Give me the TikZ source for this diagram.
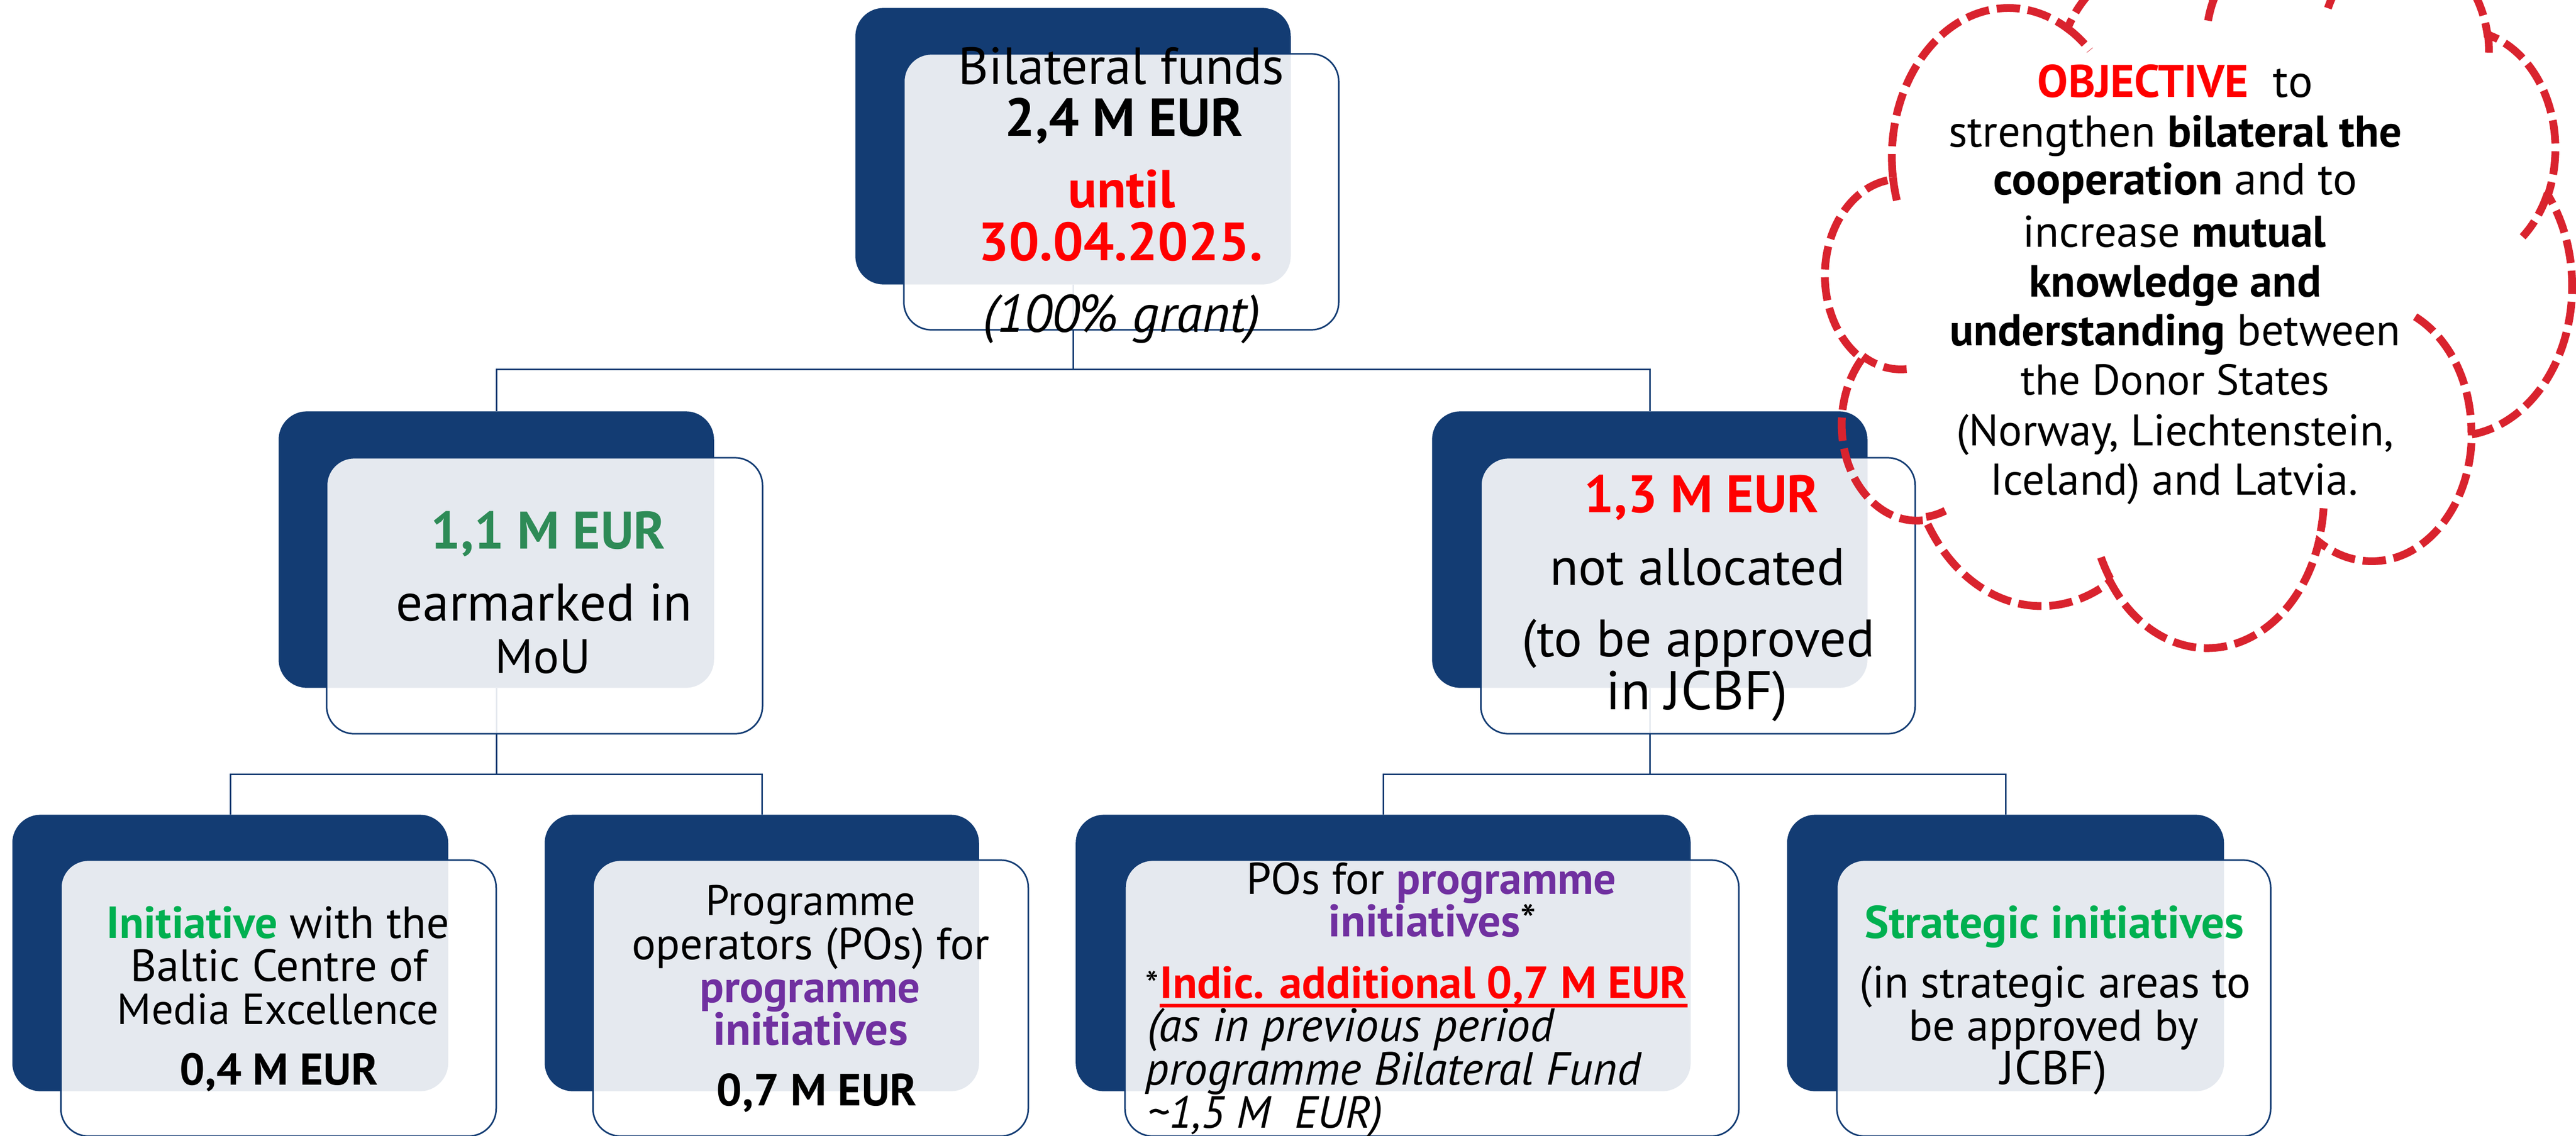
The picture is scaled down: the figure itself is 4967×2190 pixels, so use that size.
\documentclass[tikz,border=0pt]{standalone}
\usepackage{fontspec}
\setmainfont{PT Sans}
\usepackage{graphicx}
\usetikzlibrary{calc}
\definecolor{navy}{RGB}{19,60,115}
\definecolor{seagreen}{RGB}{46,139,87}
\definecolor{brightgreen}{RGB}{0,176,80}
\definecolor{purp}{RGB}{112,48,160}
\definecolor{pured}{RGB}{255,0,0}
\definecolor{cloudred}{RGB}{217,35,46}
\newlength\pxu \setlength\pxu{0.1mm}
\newcommand\fw[2]{\resizebox{#1\pxu}{!}{#2}}
\pgfdeclarelayer{bg}
\pgfsetlayers{bg,main}
\tikzset{
 darkbox/.style={draw=navy, fill=navy, line width=0.3mm, rounded corners=5.3mm, inner sep=0pt, minimum height=5.30cm},
 outbox/.style={draw=navy, line width=0.3mm, fill=white, fill opacity=0.89, rounded corners=5.3mm, inner sep=0pt, minimum height=5.32cm},
 conn/.style={draw=navy, line width=0.3mm},
 tc/.style={anchor=base, inner sep=0pt, font=\fontsize{22}{26}\selectfont},
 tl/.style={anchor=base west, inner sep=0pt, font=\fontsize{22}{26}\selectfont},
 cloudline/.style={draw=cloudred, line width=1.5mm, dash pattern=on 4.5mm off 1.5mm},
}
\begin{document}
\begin{tikzpicture}[x=0.01cm, y=-0.01cm]
\useasboundingbox (0,0) rectangle (4967,2190);
\clip (0,0) rectangle (4967,2190);
% dark boxes
\node[darkbox, minimum width=8.36cm] (topd) at (2069,282) {};
\node[darkbox, minimum width=8.36cm] (mld) at (957,1060) {};
\node[darkbox, minimum width=8.36cm] (mrd) at (3181,1060) {};
\node[darkbox, minimum width=8.37cm] (b1d) at (444,1838) {};
\node[darkbox, minimum width=8.34cm] (b2d) at (1469,1838) {};
\node[darkbox, minimum width=11.82cm] (b3d) at (2667,1838) {};
\node[darkbox, minimum width=8.39cm] (b4d) at (3867,1838) {};
% outline boxes
\node[outbox, minimum width=8.38cm] (topo) at (2162,370) {};
\node[outbox, minimum width=8.40cm] (mlo) at (1050,1149) {};
\node[outbox, minimum width=8.37cm] (mro) at (3274,1149) {};
\node[outbox, minimum width=8.39cm] (b1o) at (537,1925) {};
\node[outbox, minimum width=8.39cm] (b2o) at (1563,1925) {};
\node[outbox, minimum width=11.83cm] (b3o) at (2761,1925) {};
\node[outbox, minimum width=8.36cm] (b4o) at (3960,1925) {};
% connectors
\coordinate (bus1) at (2069,712);
\coordinate (bus2) at (957,1493);
\coordinate (bus3) at (3181,1493);
\begin{pgfonlayer}{bg}
\draw[conn] (topd.south) -- (bus1) -| (mld.north);
\draw[conn] (bus1) -| (mrd.north);
\draw[conn] (mld.south) -- (bus2) -| (b1d.north);
\draw[conn] (bus2) -| (b2d.north);
\draw[conn] (mrd.south) -- (bus3) -| (b3d.north);
\draw[conn] (bus3) -| (b4d.north);
\end{pgfonlayer}
% top box text
\node[tc] (a1) at (2162,162) {\fw{628}{Bilateral funds}};
\node[tc] (a2) at (2167,262) {\fw{458}{\bfseries 2,4 M EUR}};
\node[tc] (a3) at (2163,400) {\fw{206}{\color{pured}\bfseries until}};
\node[tc] (a4) at (2161,502) {\fw{548}{\color{pured}\bfseries 30.04.2025.}};
\node[tc] (a5) at (2163,640) {\fw{535}{\itshape (100\% grant)}};
% middle left
\node[tc] (b1) at (1057,1058) {\fw{452}{\color{seagreen}\bfseries 1,1 M EUR}};
\node[tc] (b2) at (1049,1197) {\fw{571}{earmarked in}};
\node[tc] (b3) at (1047,1298) {\fw{184}{MoU}};
% middle right
\node[tc] (c1) at (3281,988) {\fw{452}{\color{pured}\bfseries 1,3 M EUR}};
\node[tc] (c2) at (3273,1128) {\fw{569}{not allocated}};
\node[tc] (c3) at (3275,1266) {\fw{680}{(to be approved}};
\node[tc] (c4) at (3272,1368) {\fw{350}{in JCBF)}};
% bottom 1
\node[tc] (d1) at (536,1809) {\fw{660}{\textcolor{brightgreen}{\bfseries Initiative} with the}};
\node[tc] (d2) at (538,1892) {\fw{572}{Baltic Centre of}};
\node[tc] (d3) at (536,1975) {\fw{620}{Media Excellence}};
\node[tc] (d4) at (538,2092) {\fw{382}{\bfseries 0,4 M EUR}};
% bottom 2
\node[tc] (e1) at (1563,1765) {\fw{405}{Programme}};
\node[tc] (e2) at (1563,1850) {\fw{689}{operators (POs) for}};
\node[tc] (e3) at (1562,1933) {\fw{424}{\color{purp}\bfseries programme}};
\node[tc] (e4) at (1563,2015) {\fw{375}{\color{purp}\bfseries initiatives}};
\node[tc] (e5) at (1575,2132) {\fw{386}{\bfseries 0,7 M EUR}};
% bottom 3
\node[tc] (f1) at (2760,1724) {\fw{712}{POs for \textcolor{purp}{\bfseries programme}}};
\node[tc] (f2) at (2762,1806) {\fw{400}{\textcolor{purp}{\bfseries initiatives}*}};
\node[tl, font=\fontsize{21}{25}\selectfont] (f3) at (2208,1925) {*};
\node[tl] (f4) at (2236,1925) {\fw{1016}{\color{pured}\bfseries Indic. additional 0,7 M EUR}};
\draw[pured, line width=0.7mm] ([yshift=-1.4mm]f4.base west) -- ([yshift=-1.4mm]f4.base east);
\node[tl] (f5) at (2212,2008) {\fw{783}{\itshape (as in previous period}};
\node[tl] (f6) at (2208,2092) {\fw{955}{\itshape programme Bilateral Fund}};
\node[tl] (f7) at (2212,2175) {\fw{454}{\itshape \textasciitilde 1,5 M\ \ EUR)}};
% bottom 4
\node[tc] (g1) at (3961,1809) {\fw{731}{\color{brightgreen}\bfseries Strategic initiatives}};
\node[tc] (g2) at (3963,1924) {\fw{754}{(in strategic areas to}};
\node[tc] (g3) at (3960,2007) {\fw{559}{be approved by}};
\node[tc] (g4) at (3960,2091) {\fw{205}{JCBF)}};
% cloud text
\node[tc] (h1) at (4194,187) {\fw{530}{\textcolor{pured}{\bfseries OBJECTIVE}\ \ to}};
\node[tc] (h2) at (4194,283) {\fw{873}{strengthen \textbf{bilateral the}}};
\node[tc] (h3) at (4194,375) {\fw{701}{\textbf{cooperation} and to}};
\node[tc] (h4) at (4193,476) {\fw{584}{increase \textbf{mutual}}};
\node[tc] (h5) at (4194,572) {\fw{563}{\bfseries knowledge and}};
\node[tc] (h6) at (4194,666) {\fw{869}{\textbf{understanding} between}};
\node[tc] (h7) at (4194,761) {\fw{595}{the Donor States}};
\node[tc] (h8) at (4194,859) {\fw{843}{(Norway, Liechtenstein,}};
\node[tc] (h9) at (4192,954) {\fw{708}{Iceland) and Latvia.}};
% cloud
\begin{scope}[shift={(3520,-108)}, x=0.3329cm, y=-0.3130cm]
\draw[cloudline] (3.900,14.370)
 arc[start angle=172.255, end angle=300.36, x radius=6.753, y radius=9.190]
 arc[start angle=-152.02, end angle=-45.45, x radius=5.333, y radius=7.267]
 arc[start angle=-153.48, end angle=-37.33, x radius=4.365, y radius=5.945]
 arc[start angle=-139.69, end angle=-10.21, x radius=4.857, y radius=6.595]
 arc[start angle=-74.77, end angle=23.21, x radius=5.333, y radius=7.273]
 arc[start angle=-37.53, end angle=81.86, x radius=6.775, y radius=9.220]
 arc[start angle=0.46, end angle=121.99, x radius=5.785, y radius=7.867]
 arc[start angle=16.845, end angle=146.25, x radius=6.752, y radius=9.215]
 arc[start angle=58.98, end angle=150.20, x radius=7.720, y radius=10.543]
 arc[start angle=83.31, end angle=223.13, x radius=4.360, y radius=5.918]
 arc[start angle=120.35, end angle=264.11, x radius=4.345, y radius=5.945]
 -- cycle;
\draw[cloudline] (4.693,26.177) arc[start angle=85.55, end angle=120.35, x radius=4.345, y radius=5.945];
\draw[cloudline] (6.928,34.899) arc[start angle=68.24, end angle=83.31, x radius=4.360, y radius=5.918];
\draw[cloudline] (16.478,39.090) arc[start angle=146.25, end angle=158.48, x radius=6.752, y radius=9.215];
\draw[cloudline] (28.827,34.751) arc[start angle=4.74, end angle=16.85, x radius=6.752, y radius=9.215];
\draw[cloudline] (34.129,22.954) arc[start angle=-64.03, end angle=0.46, x radius=5.785, y radius=7.867];
\draw[cloudline] (41.798,15.354) arc[start angle=23.21, end angle=49.63, x radius=5.333, y radius=7.273];
\draw[cloudline] (38.324,5.426) arc[start angle=-10.21, end angle=0.82, x radius=4.857, y radius=6.595];
\draw[cloudline] (29.078,3.952) arc[start angle=-156.29, end angle=-139.69, x radius=4.857, y radius=6.595];
\draw[cloudline] (22.141,4.720) arc[start angle=-167.72, end angle=-153.48, x radius=4.365, y radius=5.945];
\draw[cloudline] (14.000,5.192) arc[start angle=-59.64, end angle=-45.72, x radius=6.753, y radius=9.190];
\draw[cloudline] (4.127,15.789) arc[start angle=163.19, end angle=172.26, x radius=6.753, y radius=9.190];
\end{scope}
\end{tikzpicture}
\end{document}
